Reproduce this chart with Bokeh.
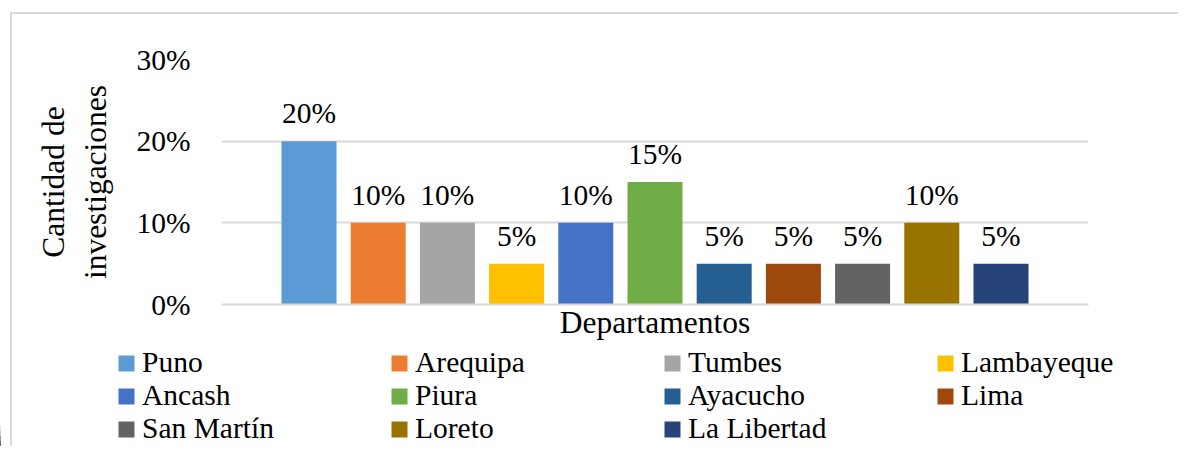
from bokeh.plotting import figure
from bokeh.layouts import column, row
from bokeh.models import (Range1d, FixedTicker, NumeralTickFormatter, Legend,
                          LegendItem, ColumnDataSource)
from bokeh.embed import file_html
from bokeh.resources import INLINE
from bokeh.core.properties import value

# ---- data ----
departments = ["Puno", "Arequipa", "Tumbes", "Lambayeque", "Ancash", "Piura",
               "Ayacucho", "Lima", "San Martín", "Loreto", "La Libertad"]
shares = [0.20, 0.10, 0.10, 0.05, 0.10, 0.15, 0.05, 0.05, 0.05, 0.10, 0.05]
bar_colors = ["#5B9BD5", "#ED7D31", "#A5A5A5", "#FFC000", "#4472C4", "#70AD47",
              "#255E91", "#9E480E", "#636363", "#997300", "#264478"]
y_ticks = [0.0, 0.1, 0.2, 0.3]
value_labels = ["%d%%" % round(v * 100) for v in shares]
x_title = "Departamentos"
y_title = "Cantidad de\ninvestigaciones"

FONT = "Liberation Serif"
GRID = "#d9d9d9"

W, H1, H2 = 1178, 342, 104

# ---- main chart ----
p = figure(width=W, height=H1, output_backend="svg", toolbar_location=None,
           x_range=Range1d(-1.2645, 11.2645), y_range=Range1d(0, 0.30),
           min_border_left=221, min_border_right=W - 1088,
           min_border_top=59, min_border_bottom=H1 - 304)
p.outline_line_color = None
p.background_fill_color = "white"
p.border_fill_alpha = 0

src = ColumnDataSource(dict(x=list(range(len(departments))), top=shares,
                            color=bar_colors, dept=departments, label=value_labels))
r = p.vbar(x="x", top="top", width=0.795, fill_color="color", line_color=None, source=src)
p.text(x="x", y="top", text="label", source=src, text_align="center",
       text_baseline="alphabetic", y_offset=-28, text_font=value(FONT),
       text_font_size="29.5px", text_color="black")

p.yaxis.ticker = FixedTicker(ticks=y_ticks)
p.yaxis.formatter = NumeralTickFormatter(format="0%")
p.yaxis.axis_line_color = None
p.yaxis.major_tick_line_color = None
p.yaxis.minor_tick_line_color = None
p.yaxis.major_label_standoff = 25
p.yaxis.major_label_text_font = FONT
p.yaxis.major_label_text_font_size = "29.5px"
p.yaxis.major_label_text_color = "black"
p.yaxis.axis_label = y_title
p.yaxis.axis_label_text_font = FONT
p.yaxis.axis_label_text_font_size = "31.5px"
p.yaxis.axis_label_text_font_style = "normal"
p.yaxis.axis_label_text_color = "black"
p.yaxis.axis_label_standoff = 20

p.xaxis.ticker = FixedTicker(ticks=[])
p.xaxis.axis_line_color = GRID
p.xaxis.axis_line_width = 2
p.xaxis.major_tick_line_color = None
p.xaxis.minor_tick_line_color = None
p.xaxis.major_label_standoff = 0
p.xaxis.axis_label = x_title
p.xaxis.axis_label_text_font = FONT
p.xaxis.axis_label_text_font_size = "31.5px"
p.xaxis.axis_label_text_font_style = "normal"
p.xaxis.axis_label_text_color = "black"
p.xaxis.axis_label_standoff = 0

p.xgrid.grid_line_color = None
p.ygrid.ticker = FixedTicker(ticks=y_ticks)
p.ygrid.grid_line_color = GRID
p.ygrid.grid_line_width = 2

# ---- legend strip (same data, swatches only) ----
p2 = figure(width=W, height=H2, output_backend="svg", toolbar_location=None,
            x_range=Range1d(100, 101), y_range=Range1d(0, 1),
            x_axis_location=None, y_axis_location=None,
            min_border_left=0, min_border_right=0, min_border_top=0, min_border_bottom=0)
p2.outline_line_color = None
p2.background_fill_alpha = 0
p2.border_fill_alpha = 0
p2.grid.grid_line_color = None
r2 = p2.vbar(x="x", top="top", width=0.795, fill_color="color", line_color=None, source=src)

items = [LegendItem(label=d, renderers=[r2], index=i) for i, d in enumerate(departments)]
legend = Legend(items=items, location=(116, 1), orientation="horizontal",
                ncols=4,
                glyph_width=20, glyph_height=20, label_standoff=6, label_width=247,
                spacing=0, padding=0, margin=0, border_line_color=None,
                background_fill_alpha=0, label_text_font=FONT,
                label_text_font_size="29.5px", label_text_color="black")
p2.add_layout(legend, "center")

layout = column(p, row(p2), spacing=0, styles={
    "background-color": "white",
    "background-image": "linear-gradient(#d9d9d9, #d9d9d9), linear-gradient(#d9d9d9, #d9d9d9)",
    "background-size": "100% 2px, 2px 100%",
    "background-position": "10px 12px, 10px 12px",
    "background-repeat": "no-repeat",
})

open("out.html", "w").write(file_html(layout, INLINE))
